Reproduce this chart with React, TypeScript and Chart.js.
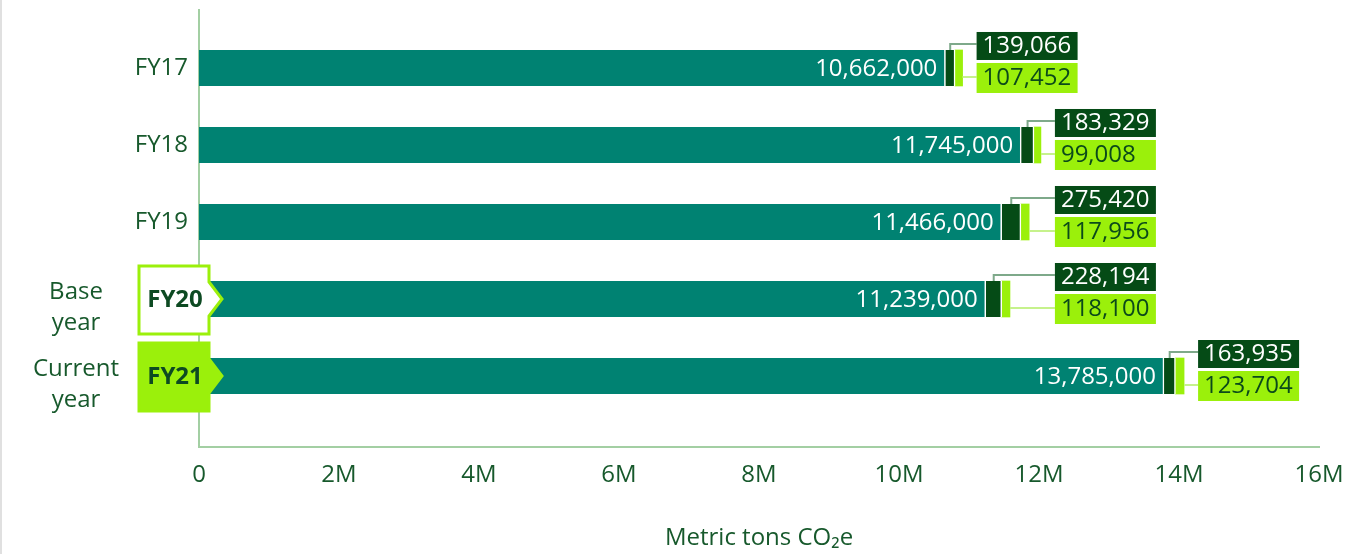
import React, { useEffect, useRef } from "react";
import { Chart, registerables } from "chart.js";

Chart.register(...registerables);

const categories = ["FY17", "FY18", "FY19", "FY20", "FY21"];
const mainValues = [10662000, 11745000, 11466000, 11239000, 13785000];
const darkValues = [139066, 183329, 275420, 228194, 163935];
const limeValues = [107452, 99008, 117956, 118100, 123704];
const yearNotes = ["", "", "", "Base year", "Current year"];
const xTickValues = [0, 2000000, 4000000, 6000000, 8000000, 10000000, 12000000, 14000000, 16000000];
const axisTitle = "Metric tons CO₂e";

const TEAL = "#008272";
const DARK = "#054B16";
const LIME = "#9BF00B";
const TEXT = "#17592c";
const AXIS = "#a3cfa3";
const FONT = "'Open Sans', 'Noto Sans', sans-serif";

const fmt = (v: number) => v.toLocaleString("en-US");

const calloutPlugin = {
  id: "callouts",
  afterDatasetsDraw(chart: any) {
    const ctx = chart.ctx as CanvasRenderingContext2D;
    const m0 = chart.getDatasetMeta(0);
    const m1 = chart.getDatasetMeta(1);
    const m2 = chart.getDatasetMeta(2);
    const area = chart.chartArea;
    ctx.save();
    ctx.font = `24px ${FONT}`;
    let prevEnd: number | null = null;
    let prevBox = 0;
    categories.forEach((cat, k) => {
      const b0 = m0.data[k] as any;
      const b1 = m1.data[k] as any;
      const b2 = m2.data[k] as any;
      const c = b0.y;
      const h = b0.height;
      // main value label inside the bar
      ctx.fillStyle = "#ffffff";
      ctx.textAlign = "right";
      ctx.textBaseline = "middle";
      ctx.font = `24px ${FONT}`;
      ctx.fillText(fmt(mainValues[k]), b0.x - 8, c + 1);

      const end = b2.x;
      let bx = end + 14;
      if (prevEnd !== null && Math.abs(end - prevEnd) < 60) bx = Math.max(bx, prevBox);
      prevEnd = end;
      prevBox = bx;

      // dark connector
      const dx = (b1.x + b1.base) / 2;
      ctx.lineWidth = 2;
      ctx.strokeStyle = "#7ea98a";
      ctx.beginPath();
      ctx.moveTo(dx, c - h / 2);
      ctx.lineTo(dx, c - 24);
      ctx.lineTo(bx, c - 24);
      ctx.stroke();
      // lime connector
      ctx.strokeStyle = "#c6f28c";
      ctx.beginPath();
      ctx.moveTo(end, c + 9);
      ctx.lineTo(bx, c + 9);
      ctx.stroke();

      // boxes
      const bw = 101;
      ctx.fillStyle = DARK;
      ctx.fillRect(bx, c - 36, bw, 28);
      ctx.fillStyle = LIME;
      ctx.fillRect(bx, c - 5, bw, 30);
      ctx.textAlign = "left";
      ctx.fillStyle = "#ffffff";
      ctx.fillText(fmt(darkValues[k]), bx + 6, c - 22);
      ctx.fillStyle = "#0b4a1a";
      ctx.fillText(fmt(limeValues[k]), bx + 6, c + 10);

      // highlighted year labels
      if (yearNotes[k]) {
        const r = area.left + 10;
        const l = r - 70;
        const t = c - 33;
        const b = c + 35;
        const tip = r + 13;
        ctx.beginPath();
        ctx.moveTo(l, t);
        ctx.lineTo(r, t);
        ctx.lineTo(r, c - 17);
        ctx.lineTo(tip, c);
        ctx.lineTo(r, c + 17);
        ctx.lineTo(r, b);
        ctx.lineTo(l, b);
        ctx.closePath();
        const isCurrent = k === categories.length - 1;
        ctx.fillStyle = isCurrent ? LIME : "#ffffff";
        ctx.fill();
        ctx.lineWidth = 3;
        ctx.strokeStyle = LIME;
        ctx.stroke();
        ctx.fillStyle = "#0d4a22";
        ctx.font = `bold 24px ${FONT}`;
        ctx.textAlign = "center";
        ctx.fillText(cat, (l + r) / 2 + 1, c + 1);
        ctx.font = `24px ${FONT}`;
        ctx.fillStyle = TEXT;
        const words = yearNotes[k].split(" ");
        ctx.fillText(words[0], 76, c - 7);
        ctx.fillText(words[1], 76, c + 24);
      }
    });
    ctx.restore();
  },
};

export default function App() {
  const ref = useRef<HTMLCanvasElement | null>(null);
  useEffect(() => {
    if (!ref.current) return;
    const toPts = (arr: number[]) => arr.map((v, i) => ({ x: v, y: i }));
    const chart = new Chart(ref.current, {
      type: "bar",
      data: {
        datasets: [
          {
            label: "main",
            data: toPts(mainValues) as any,
            backgroundColor: TEAL,
            borderColor: "#ffffff",
            borderWidth: { left: 0, right: 1.5, top: 0, bottom: 0 } as any,
            borderSkipped: false,
            barThickness: 36,
          },
          {
            label: "dark",
            data: toPts(darkValues) as any,
            backgroundColor: DARK,
            borderColor: "#ffffff",
            borderWidth: { left: 0, right: 1.5, top: 0, bottom: 0 } as any,
            borderSkipped: false,
            barThickness: 36,
          },
          {
            label: "lime",
            data: toPts(limeValues) as any,
            backgroundColor: LIME,
            borderWidth: 0,
            barThickness: 36,
          },
        ],
      },
      options: {
        indexAxis: "y",
        animation: false,
        responsive: true,
        maintainAspectRatio: false,
        layout: { padding: { top: 10, right: 52, left: 0, bottom: 0 } },
        plugins: {
          legend: { display: false },
          tooltip: { enabled: false },
        },
        scales: {
          x: {
            type: "linear",
            stacked: true,
            min: 0,
            max: 16000000,
            grid: { display: false },
            border: { display: true, color: AXIS, width: 2 },
            afterBuildTicks: (scale: any) => {
              scale.ticks = xTickValues.map((v) => ({ value: v }));
            },
            afterFit: (scale: any) => {
              scale.height = 107;
              scale.paddingLeft = 0;
              scale.paddingRight = 0;
            },
            ticks: {
              padding: 6,
              color: TEXT,
              font: { family: FONT, size: 24 },
              maxRotation: 0,
              callback: (v: any) => (Number(v) === 0 ? "0" : `${Number(v) / 1000000}M`),
            },
            title: {
              display: true,
              text: axisTitle,
              color: TEXT,
              font: { family: FONT, size: 24 },
              padding: { top: 0, bottom: 1 },
            },
          },
          y: {
            type: "linear",
            stacked: true,
            reverse: true,
            offset: false,
            bounds: "data",
            min: -0.753,
            max: 4.922,
            grid: { display: false, offset: false },
            border: { display: true, color: AXIS, width: 2 },
            afterBuildTicks: (scale: any) => {
              scale.ticks = categories.map((_, i) => ({ value: i }));
            },
            afterFit: (scale: any) => {
              scale.width = 199;
              scale.paddingTop = 0;
              scale.paddingBottom = 0;
            },
            ticks: {
              padding: 3,
              color: TEXT,
              font: { family: FONT, size: 24 },
              callback: (v: any) => {
                const i = Math.round(Number(v));
                return yearNotes[i] ? "" : categories[i];
              },
            },
          },
        },
      },
      plugins: [calloutPlugin],
    } as any);
    return () => chart.destroy();
  }, []);

  return (
    <div style={{ position: "absolute", left: 0, top: 0, width: 1371, height: 554, background: "#fff" }}>
      <div style={{ position: "absolute", left: 0, top: 0, width: 2, height: 554, background: "#e0e0e0" }} />
      <canvas ref={ref} />
    </div>
  );
}
